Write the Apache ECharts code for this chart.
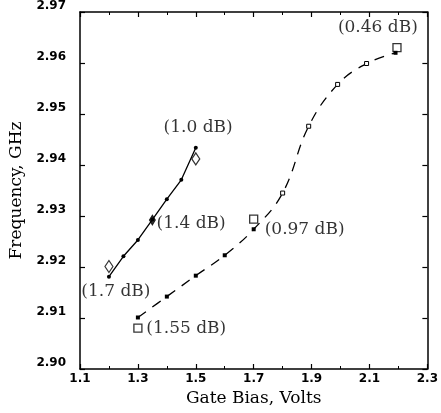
<!DOCTYPE html>
<html><head><meta charset="utf-8">
<script src="https://cdn.jsdelivr.net/npm/echarts@6/dist/echarts.min.js"></script>
<style>html,body{margin:0;padding:0;background:#fff}#c{width:441px;height:413px}</style>
</head><body><div id="c"></div>
<script>
// Solid curve (filled dots)
const solidX = [1.2, 1.25, 1.3, 1.35, 1.4, 1.45, 1.5];
const solidY = [2.9181, 2.9221, 2.9253, 2.9293, 2.9333, 2.9371, 2.9434];
// Open diamonds
const diamondX = [1.2, 1.5];
const diamondY = [2.9201, 2.9412];
// Filled diamond
const fDiamondX = [1.35];
const fDiamondY = [2.9292];
// Dashed curve (small squares)
const dashX = [1.3, 1.4, 1.5, 1.6, 1.7, 1.8, 1.89, 1.99, 2.09, 2.19];
const dashY = [2.9101, 2.9142, 2.9183, 2.9223, 2.9274, 2.9345, 2.9476, 2.9558, 2.9599, 2.9620];
const dashHollow = [false, false, false, false, false, true, true, true, true, false];
// Open squares
const squareX = [1.3, 1.7, 2.195];
const squareY = [2.908, 2.9294, 2.963];
// Annotations: text and its centre in data coordinates
const noteText = ['(1.0 dB)', '(1.4 dB)', '(1.7 dB)', '(1.55 dB)', '(0.97 dB)', '(0.46 dB)'];
const noteX = [1.508, 1.484, 1.224, 1.467, 1.876, 2.129];
const noteY = [2.9473, 2.9286, 2.9151, 2.9080, 2.9273, 2.9669];
// Axis ticks
const xMin = 1.1, xMax = 2.3, xStep = 0.2;
const yMin = 2.90, yMax = 2.97, yStep = 0.01;

const zip = (a, b) => a.map((v, i) => [v, b[i]]);
const serif = 'DejaVu Serif';
const tickFont = {fontFamily: 'DejaVu Sans', fontWeight: 'bold', fontSize: 12, color: '#000'};

const chart = echarts.init(document.getElementById('c'), null, {renderer: 'canvas'});
chart.setOption({
  animation: false,
  backgroundColor: '#fff',
  grid: {left: 80, right: 8, top: 12, bottom: 44},
  xAxis: [{
    type: 'value', min: xMin, max: xMax, interval: xStep, position: 'bottom',
    name: 'Gate Bias, Volts', nameLocation: 'middle', nameGap: 20,
    nameTextStyle: {fontFamily: serif, fontSize: 17, color: '#000'},
    axisLine: {show: true, lineStyle: {color: '#000', width: 1.5}},
    axisTick: {inside: true, length: 5, lineStyle: {color: '#000', width: 1.2}},
    minorTick: {show: true, splitNumber: 2, length: 3, lineStyle: {color: '#000', width: 1}},
    axisLabel: Object.assign({margin: 4, formatter: v => v.toFixed(1)}, tickFont),
    splitLine: {show: false}
  }, {
    type: 'value', min: xMin, max: xMax, interval: xStep, position: 'top',
    axisLine: {show: true, lineStyle: {color: '#000', width: 1.5}},
    axisTick: {inside: true, length: 5, lineStyle: {color: '#000', width: 1.2}},
    minorTick: {show: true, splitNumber: 2, length: 3, lineStyle: {color: '#000', width: 1}},
    axisLabel: {show: false}, splitLine: {show: false}
  }],
  yAxis: [{
    type: 'value', min: yMin, max: yMax, interval: yStep, position: 'left',
    name: 'Frequency, GHz', nameLocation: 'middle', nameGap: 48,
    nameTextStyle: {fontFamily: serif, fontSize: 17, color: '#000'},
    axisLine: {show: true, lineStyle: {color: '#000', width: 1.5}},
    axisTick: {inside: true, length: 5, lineStyle: {color: '#000', width: 1.2}},
    axisLabel: Object.assign({margin: 14, verticalAlign: 'bottom', formatter: v => v.toFixed(2)}, tickFont),
    splitLine: {show: false}
  }, {
    type: 'value', min: yMin, max: yMax, interval: yStep, position: 'right',
    axisLine: {show: true, lineStyle: {color: '#000', width: 1.5}},
    axisTick: {inside: true, length: 5, lineStyle: {color: '#000', width: 1.2}},
    axisLabel: {show: false}, splitLine: {show: false}
  }],
  series: [{
    type: 'line', data: zip(solidX, solidY), symbol: 'circle', symbolSize: 4,
    itemStyle: {color: '#000'}, lineStyle: {color: '#000', width: 1.3}, z: 3
  }, {
    type: 'scatter', data: zip(diamondX, diamondY), symbol: 'diamond', symbolSize: [8, 12],
    itemStyle: {color: '#fff', borderColor: '#000', borderWidth: 1.2}, z: 4
  }, {
    type: 'scatter', data: zip(fDiamondX, fDiamondY), symbol: 'diamond', symbolSize: [6, 10],
    itemStyle: {color: '#000', borderColor: '#000', borderWidth: 1}, z: 4
  }, {
    type: 'line', smooth: 0.4,
    data: dashX.map((x, i) => ({value: [x, dashY[i]], itemStyle: dashHollow[i] ? {color: '#fff', borderColor: '#000', borderWidth: 1} : {color: '#000'}})),
    symbol: 'rect', symbolSize: 4,
    lineStyle: {color: '#000', width: 1.3, type: [10, 8]}, z: 3
  }, {
    type: 'scatter', data: zip(squareX, squareY), symbol: 'rect', symbolSize: 8,
    itemStyle: {color: 'rgba(255,255,255,0)', borderColor: '#000', borderWidth: 1.3}, z: 4
  }, {
    type: 'scatter', data: noteText.map((t, i) => ({value: [noteX[i], noteY[i]], name: t})),
    symbolSize: 0, silent: true,
    label: {show: true, position: 'inside', formatter: p => p.name, fontFamily: serif, fontSize: 17, color: '#000'}, z: 5
  }]
});
</script></body></html>
